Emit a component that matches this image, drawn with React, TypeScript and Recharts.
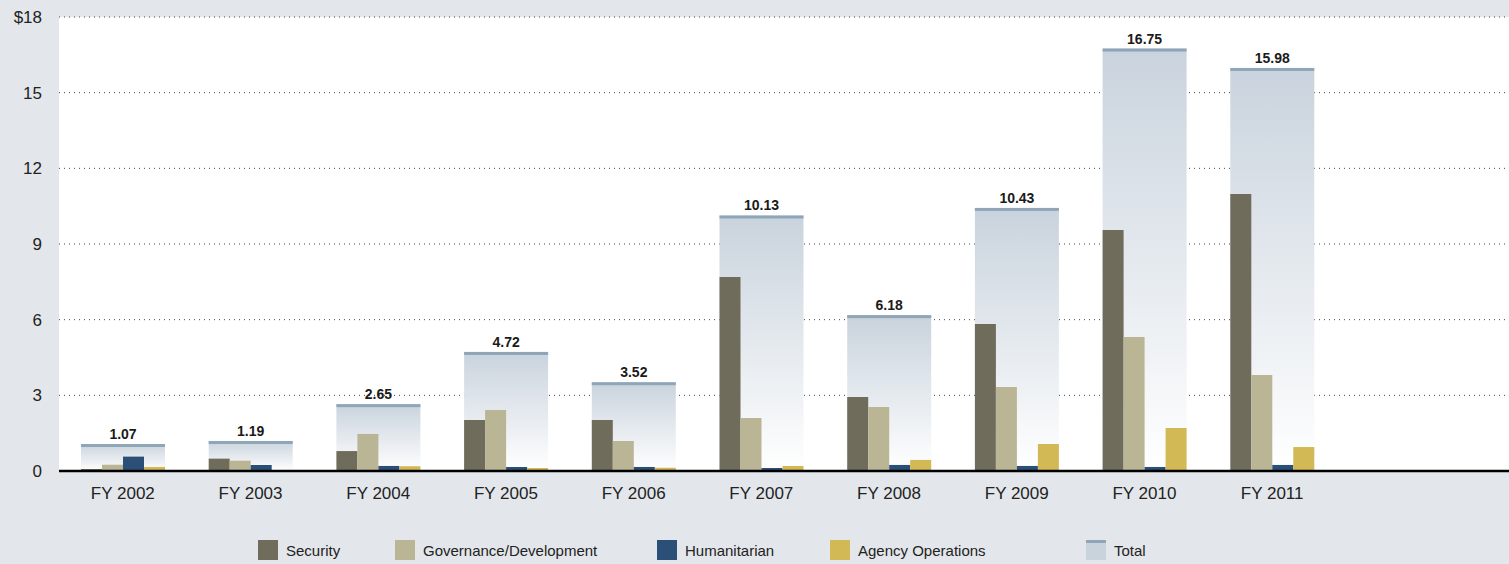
import { ComposedChart, Bar, XAxis, YAxis, CartesianGrid, LabelList } from 'recharts';

const YEARS = ['FY 2002', 'FY 2003', 'FY 2004', 'FY 2005', 'FY 2006', 'FY 2007', 'FY 2008', 'FY 2009', 'FY 2010', 'FY 2011'];
const SECURITY = [0.08, 0.49, 0.79, 2.02, 2.02, 7.69, 2.93, 5.83, 9.56, 10.98];
const GOVERNANCE = [0.25, 0.41, 1.47, 2.42, 1.19, 2.1, 2.54, 3.33, 5.31, 3.81];
const HUMANITARIAN = [0.57, 0.24, 0.2, 0.16, 0.16, 0.12, 0.24, 0.2, 0.16, 0.24];
const AGENCY = [0.16, 0, 0.19, 0.12, 0.13, 0.2, 0.44, 1.07, 1.7, 0.95];
const TOTAL = [1.07, 1.19, 2.65, 4.72, 3.52, 10.13, 6.18, 10.43, 16.75, 15.98];
const Y_TICKS = [0, 3, 6, 9, 12, 15, 18];

const SERIES = [
  { key: 'security', name: 'Security', color: '#6f6c5c' },
  { key: 'governance', name: 'Governance/Development', color: '#bab595' },
  { key: 'humanitarian', name: 'Humanitarian', color: '#2c4f78' },
  { key: 'agency', name: 'Agency Operations', color: '#d2b955' },
];

const FONT = "'Liberation Sans', Arial, sans-serif";
const BG = '#e3e7eb';

const data = YEARS.map((year, i) => ({
  year,
  security: SECURITY[i],
  governance: GOVERNANCE[i],
  humanitarian: HUMANITARIAN[i],
  agency: AGENCY[i],
  total: TOTAL[i],
}));

// wide gradient bar with a darker cap on top
function TotalShape(props: any) {
  const { x, y, width, height } = props;
  if (!height || height <= 0) return null;
  return (
    <g>
      <rect x={x} y={y} width={width} height={height} fill="url(#totalGrad)" />
      <rect x={x} y={y} width={width} height={3} fill="#8fa5b8" />
    </g>
  );
}

// legend items sit at uneven spots in the original
const LEGEND_LEFT = [258, 395, 657, 830, 1086];

function ChartLegend() {
  const items = [...SERIES.map((s) => ({ name: s.name, color: s.color, total: false })), { name: 'Total', color: '#c9d3dc', total: true }];
  return (
    <div style={{ position: 'absolute', left: 0, top: 540, width: 1509, height: 22, fontFamily: FONT, fontSize: 15, color: '#222' }}>
      {items.map((it, i) => (
        <div key={it.name} style={{ position: 'absolute', left: LEGEND_LEFT[i], top: 0, display: 'flex', alignItems: 'flex-end' }}>
          <div
            style={{
              width: 20,
              height: 20,
              background: it.color,
              borderTop: it.total ? '3px solid #8fa5b8' : undefined,
              boxSizing: 'border-box',
            }}
          />
          <span style={{ marginLeft: 8, lineHeight: '18px' }}>{it.name}</span>
        </div>
      ))}
    </div>
  );
}

export default function App() {
  return (
    <div style={{ position: 'absolute', left: 0, top: 0, width: 1509, height: 564, background: BG }}>
      <ComposedChart
        width={1509}
        height={564}
        data={data}
        margin={{ top: 17, right: 0, bottom: 63, left: 0 }}
        barGap={0}
        style={{ fontFamily: FONT }}
      >
        <defs>
          <linearGradient id="totalGrad" x1="0" y1="0" x2="0" y2="1">
            <stop offset="0%" stopColor="#c9d3dd" />
            <stop offset="100%" stopColor="#ffffff" />
          </linearGradient>
        </defs>
        <CartesianGrid vertical={false} fill="#ffffff" stroke="#444" strokeDasharray="1 4" />
        <XAxis
          xAxisId="t"
          dataKey="year"
          height={30}
          padding={{ left: 0, right: 173 }}
          tickLine={false}
          tickSize={0}
          tickMargin={16}
          axisLine={{ stroke: '#000', strokeWidth: 2.5 }}
          tick={{ fontSize: 17, fill: '#222' }}
          interval={0}
        />
        <XAxis xAxisId="s" dataKey="year" orientation="top" height={0} padding={{ left: 0, right: 173 }} hide />
        <YAxis
          domain={[0, 18]}
          ticks={Y_TICKS}
          width={59}
          tickLine={false}
          axisLine={false}
          tickSize={0}
          tickMargin={17}
          tick={{ fontSize: 17, fill: '#222' }}
          tickFormatter={(v: number) => (v === 18 ? '$18' : String(v))}
        />
        <Bar xAxisId="t" dataKey="total" name="Total" barSize={84} shape={TotalShape} isAnimationActive={false}>
          <LabelList
            dataKey="total"
            position="top"
            offset={5}
            formatter={(v: any) => Number(v).toFixed(2)}
            style={{ fontSize: 14, fontWeight: 700, fill: '#1a1a1a' }}
          />
        </Bar>
        {SERIES.map((s) => (
          <Bar key={s.key} xAxisId="s" dataKey={s.key} name={s.name} fill={s.color} barSize={21} isAnimationActive={false} />
        ))}
      </ComposedChart>
      <ChartLegend />
    </div>
  );
}
